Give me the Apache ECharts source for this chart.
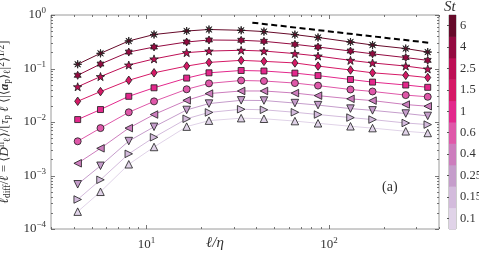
<!DOCTYPE html>
<html><head><meta charset="utf-8">
<script src="https://cdn.jsdelivr.net/npm/echarts@6/dist/echarts.min.js"></script>
<style>html,body{margin:0;padding:0;background:#fff}#c{width:479px;height:258px}</style>
</head><body><div id="c"></div>
<script>
// ---------------- data ----------------
const ellOverEta = [4.2, 5.6, 8.0, 11, 16.6, 22, 33, 44, 65, 87, 131, 173, 263, 347];
const stLabels = ['0.1', '0.15', '0.25', '0.4', '0.6', '1', '1.5', '2.5', '4', '6'];
const st0_1  = [0.000211, 0.000496, 0.00162, 0.00341, 0.00820, 0.0106, 0.0118, 0.0115, 0.0104, 0.00946, 0.00831, 0.00769, 0.00670, 0.00623];
const st0_15 = [0.000356, 0.000831, 0.00254, 0.00518, 0.0115, 0.0151, 0.0173, 0.0169, 0.0152, 0.0138, 0.0121, 0.0111, 0.00958, 0.00894];
const st0_25 = [0.000685, 0.00152, 0.00440, 0.00813, 0.0168, 0.0221, 0.0254, 0.0252, 0.0226, 0.0207, 0.0178, 0.0165, 0.0144, 0.0130];
const st0_4  = [0.00169, 0.00322, 0.00769, 0.0138, 0.0254, 0.0340, 0.0380, 0.0380, 0.0347, 0.0311, 0.0271, 0.0251, 0.0212, 0.0197];
const st0_6  = [0.00436, 0.00769, 0.0152, 0.0243, 0.0409, 0.0527, 0.0597, 0.0584, 0.0534, 0.0479, 0.0405, 0.0372, 0.0318, 0.0296];
const st1    = [0.0111, 0.0171, 0.0302, 0.0436, 0.0662, 0.0831, 0.0918, 0.0898, 0.0820, 0.0737, 0.0623, 0.0557, 0.0491, 0.0445];
const st1_5  = [0.0244, 0.0370, 0.0602, 0.0831, 0.111, 0.130, 0.142, 0.136, 0.127, 0.111, 0.0937, 0.0831, 0.0746, 0.0676];
const st2_5  = [0.0455, 0.0706, 0.116, 0.151, 0.198, 0.212, 0.219, 0.212, 0.190, 0.171, 0.142, 0.127, 0.111, 0.098];
const st4    = [0.0746, 0.121, 0.203, 0.252, 0.313, 0.341, 0.337, 0.322, 0.283, 0.252, 0.212, 0.188, 0.160, 0.142];
const st6    = [0.120, 0.192, 0.327, 0.432, 0.502, 0.536, 0.518, 0.490, 0.430, 0.380, 0.313, 0.275, 0.236, 0.203];
const slopeX = [38, 360];
const slopeY = [0.72, 0.30];
const xMajorTicks = [10, 100];
const yMajorTicks = [1e-4, 1e-3, 1e-2, 1e-1, 1];
const panelLabel = '(a)';

// ---------------- styles ----------------
const allSeries = [st0_1, st0_15, st0_25, st0_4, st0_6, st1, st1_5, st2_5, st4, st6];
const stColors = ['#e0d3e8', '#d3bbdc', '#c59dcb', '#cc7dbd', '#df58a9', '#e3288c', '#d61966', '#bd0f55', '#930a40', '#660a2a'];
const serifF = "'Liberation Serif','DejaVu Serif',serif";

function starPath(n, rIn) {
  let d = '';
  for (let k = 0; k < 2 * n; k++) {
    const r = k % 2 === 0 ? 1 : rIn;
    const a = -Math.PI / 2 + k * Math.PI / n;
    const x = (50 + 50 * r * Math.cos(a)).toFixed(2), y = (50 + 50 * r * Math.sin(a)).toFixed(2);
    d += (k === 0 ? 'M' : 'L') + x + ' ' + y + ' ';
  }
  return 'path://' + d + 'Z';
}
const sym = [
  {s: 'triangle', size: 7.5, rot: 0},
  {s: 'triangle', size: 7.5, rot: -90},
  {s: 'triangle', size: 7.5, rot: 180},
  {s: 'triangle', size: 7.5, rot: 90},
  {s: 'circle', size: 7, rot: 0},
  {s: 'rect', size: 6, rot: 0},
  {s: 'diamond', size: [6, 8.5], rot: 0},
  {s: starPath(5, 0.4), size: 8.5, rot: 0},
  {s: starPath(6, 0.55), size: 8, rot: 0},
  {s: starPath(8, 0.3), size: 8, rot: 0}
];

function pow10Label(v) {
  const e = Math.log10(v);
  const r = Math.round(e);
  if (Math.abs(e - r) > 1e-6) return '';
  return '10{sup|' + (r < 0 ? '\u2212' + (-r) : r) + '}';
}

const chart = echarts.init(document.getElementById('c'), null, {renderer: 'canvas'});
const series = allSeries.map((arr, i) => ({
  type: 'line',
  name: stLabels[i],
  data: ellOverEta.map((x, j) => [x, arr[j]]),
  symbol: sym[i].s,
  symbolSize: sym[i].size,
  symbolRotate: sym[i].rot,
  symbolKeepAspect: true,
  showAllSymbol: true,
  lineStyle: {color: stColors[i], width: 1},
  itemStyle: {color: stColors[i], borderColor: '#1a1a1a', borderWidth: 0.8},
  z: 3 + i
}));
series.push({
  type: 'line',
  data: slopeX.map((x, j) => [x, slopeY[j]]),
  symbol: 'none',
  lineStyle: {color: '#000', width: 2, type: [6, 3.5]},
  z: 20
});
// colorbar: one band per St value, positioned by the colorbar's category axis
series.push({
  type: 'custom', xAxisIndex: 1, yAxisIndex: 1, silent: true,
  data: stLabels.map((s, i) => [1, i]),
  renderItem: function (params, api) {
    const p0 = api.coord([0, api.value(1)]);
    const p1 = api.coord([1, api.value(1)]);
    const h = api.size([0, 1])[1];
    return {type: 'rect', shape: {x: p0[0], y: p0[1] - h / 2, width: p1[0] - p0[0], height: h + 0.5},
            style: {fill: stColors[params.dataIndex]}};
  }
});

chart.setOption({
  animation: false,
  grid: [
    {left: 51, top: 15, width: 388, height: 214, show: true, borderColor: '#9a9a9a', borderWidth: 1,
     backgroundColor: 'transparent', outerBoundsMode: 'none', containLabel: false},
    {left: 449, top: 15, width: 7, height: 214, show: true, borderColor: '#9a9a9a', borderWidth: 1,
     backgroundColor: 'transparent', outerBoundsMode: 'none', containLabel: false}
  ],
  xAxis: [
    {type: 'log', logBase: 10, min: 3, max: 400, gridIndex: 0,
     axisLine: {show: false}, axisTick: {show: false}, splitLine: {show: false},
     axisLabel: {formatter: pow10Label, margin: 7, color: '#333', fontFamily: serifF, fontSize: 13,
       rich: {sup: {fontSize: 9, fontFamily: serifF, color: '#333', padding: [0, 0, 8, 0]}}}},
    {type: 'value', min: 0, max: 1, gridIndex: 1, show: false}
  ],
  yAxis: [
    {type: 'log', logBase: 10, min: 1e-4, max: 1, gridIndex: 0,
     axisLine: {show: false}, axisTick: {show: false}, splitLine: {show: false},
     axisLabel: {formatter: pow10Label, margin: 5, color: '#333', fontFamily: serifF, fontSize: 13,
       rich: {sup: {fontSize: 9, fontFamily: serifF, color: '#333', padding: [0, 0, 8, 0]}}},
     name: '{i|ℓ}{sub|diff}{n|/}{i|ℓ}{n| = ⟨}{i|D}{sup|ii}{sub|ℓ}{n|⟩/[}{i|τ}{sub|p}{i| ℓ}{n| ⟨|⟨}{b|a}{sub|p}{n|⟩}{sub|ℓ}{n||}{sup|2}{n|⟩}{sup|1/2}{n|]}',
     nameLocation: 'middle', nameRotate: 90, nameGap: 29,
     nameTextStyle: {color: '#333', fontFamily: serifF, fontSize: 13,
       rich: {
         i: {fontFamily: serifF, fontStyle: 'italic', fontSize: 13, color: '#333'},
         n: {fontFamily: serifF, fontSize: 13, color: '#333'},
         b: {fontFamily: serifF, fontStyle: 'italic', fontWeight: 'bold', fontSize: 13, color: '#333'},
         sub: {fontFamily: serifF, fontSize: 9.5, color: '#333', padding: [6, 0, 0, 0]},
         sup: {fontFamily: serifF, fontSize: 9.5, color: '#333', padding: [0, 0, 6, 0]}
       }}},
    {type: 'category', gridIndex: 1, data: stLabels, position: 'right',
     axisLine: {show: false}, splitLine: {show: false},
     axisTick: {show: true, alignWithLabel: true, inside: true, length: 2, lineStyle: {color: '#555'}},
     axisLabel: {margin: 4, color: '#333', fontFamily: serifF, fontSize: 12.5}}
  ],
  series: series
});

// matplotlib-style inward ticks on all four sides, placed with the axes' own scales
const g = [];
const gTop = 15, gBottom = 229, gLeft = 51, gRight = 439;
const xMinor = [3, 4, 5, 6, 7, 8, 9, 20, 30, 40, 50, 60, 70, 80, 90, 200, 300, 400];
const yMinor = [];
for (let e = -4; e < 0; e++) for (let k = 2; k <= 9; k++) yMinor.push(k * Math.pow(10, e));
const tickStyle = {stroke: '#555', lineWidth: 0.8};
function xt(v, len) {
  const px = Math.round(chart.convertToPixel({xAxisIndex: 0}, v)) + 0.5;
  g.push({type: 'line', shape: {x1: px, y1: gBottom, x2: px, y2: gBottom - len}, style: tickStyle, silent: true, z: 50});
  g.push({type: 'line', shape: {x1: px, y1: gTop, x2: px, y2: gTop + len}, style: tickStyle, silent: true, z: 50});
}
function yt(v, len) {
  const py = Math.round(chart.convertToPixel({yAxisIndex: 0}, v)) + 0.5;
  g.push({type: 'line', shape: {x1: gLeft, y1: py, x2: gLeft + len, y2: py}, style: tickStyle, silent: true, z: 50});
  g.push({type: 'line', shape: {x1: gRight, y1: py, x2: gRight - len, y2: py}, style: tickStyle, silent: true, z: 50});
}
xMajorTicks.forEach(v => xt(v, 4));
xMinor.forEach(v => xt(v, 2));
yMajorTicks.forEach(v => yt(v, 4));
yMinor.forEach(v => yt(v, 2));
g.push({type: 'text', left: 382, top: 180, style: {text: panelLabel, font: '14px ' + serifF, fill: '#333'}, z: 50});
g.push({type: 'text', left: 206, top: 236, style: {text: 'ℓ/η', font: 'italic 15px ' + serifF, fill: '#333'}, z: 50});
g.push({type: 'text', left: 444, top: 0, style: {text: 'St', font: 'italic 15px ' + serifF, fill: '#333'}, z: 50});
chart.setOption({graphic: g});
</script>
</body></html>
